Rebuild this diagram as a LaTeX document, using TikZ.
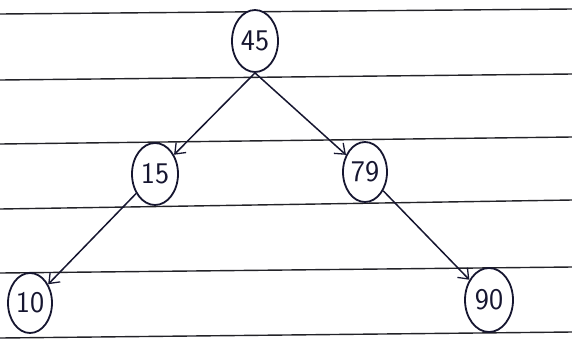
\documentclass[tikz,border=0pt]{standalone}
\usepackage{tikz}
\usepackage{xcolor}
\usetikzlibrary{arrows.meta, positioning, shapes.geometric}
\definecolor{tinta}{RGB}{22,22,48}
\definecolor{pauta}{RGB}{35,35,40}

\begin{document}
\begin{tikzpicture}[x=1pt, y=-1pt,
    chave/.style={ellipse, draw=tinta, line width=1.8pt, fill=white,
        minimum width=46pt, minimum height=62pt, inner sep=0pt,
        font=\sffamily\fontsize{30}{30}\selectfont, text=tinta},
    ramo/.style={draw=tinta, line width=1.5pt,
        -{Straight Barb[length=9pt, width=14pt, line width=1.3pt]}}]
    \useasboundingbox[fill=white] (0,0) rectangle (572,349);
    % linhas da folha pautada
    \foreach \yl/\yr in {14/9, 80/74, 144/137, 209/200, 273/267, 338/332} {
        \draw[pauta, line width=1.4pt] (0,\yl) -- (572,\yr);
    }
    % nos da arvore
    \node[chave] (n45) at (255,41) {45};
    \node[chave] (n15) at (155,174) {15};
    \node[chave, minimum width=44pt, minimum height=60pt] (n79) at (365,172) {79};
    \node[chave, minimum width=44pt, minimum height=60pt] (n10) at (30,303) {10};
    \node[chave, minimum width=48pt, minimum height=64pt] (n90) at (489,300) {90};
    % ramos
    \draw[ramo] (n45.south) -- (n15);
    \draw[ramo] (n45.south) -- (n79);
    \draw[ramo] (n15) -- (n10);
    \draw[ramo] (n79) -- (n90);
\end{tikzpicture}
\end{document}
